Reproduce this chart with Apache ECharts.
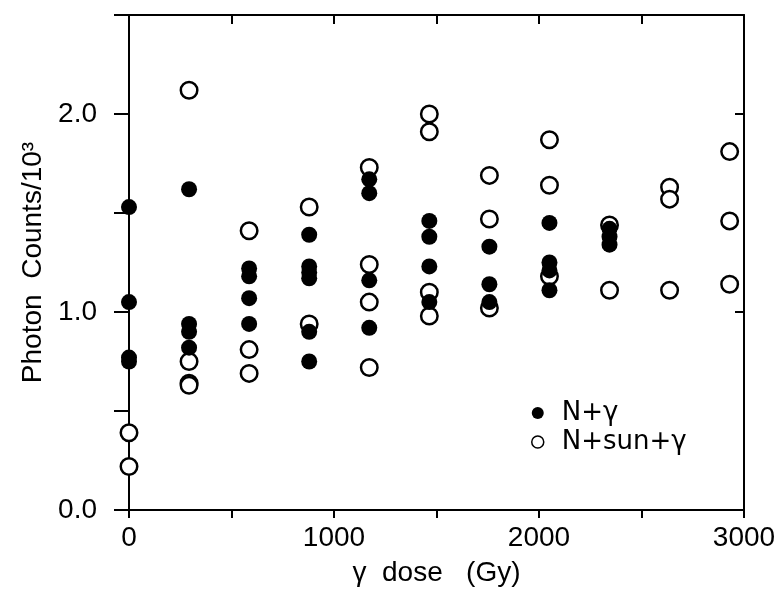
<!DOCTYPE html>
<html>
<head>
<meta charset="utf-8">
<script src="https://cdn.jsdelivr.net/npm/echarts@6/dist/echarts.min.js"></script>
<style>
  html, body { margin: 0; padding: 0; background: #fff; }
  #chart { width: 783px; height: 594px; }
</style>
</head>
<body>
<div id="chart"></div>
<script>
// N+gamma (filled)
var filledDose = [0, 0, 0, 0,
  293, 293, 293, 293,
  586, 586, 586, 586,
  879, 879, 879, 879, 879, 879,
  1172, 1172, 1172, 1172,
  1465, 1465, 1465, 1465,
  1758, 1758, 1758,
  2051, 2051, 2051, 2051,
  2344, 2344, 2344]
var filledCounts = [1.53, 1.05, 0.77, 0.75,
  1.62, 0.94, 0.90, 0.82,
  1.22, 1.18, 1.07, 0.94,
  1.39, 1.23, 1.20, 1.17, 0.90, 0.75,
  1.67, 1.60, 1.16, 0.92,
  1.46, 1.38, 1.23, 1.05,
  1.33, 1.14, 1.05,
  1.45, 1.25, 1.21, 1.11,
  1.42, 1.38, 1.34]

// N+sun+gamma (open)
var openDose = [0, 0,
  293, 293, 293, 293,
  586, 586, 586,
  879, 879,
  1172, 1172, 1172, 1172,
  1465, 1465, 1465, 1465,
  1758, 1758, 1758,
  2051, 2051, 2051,
  2344, 2344,
  2637, 2637, 2637,
  2930, 2930, 2930]
var openCounts = [0.39, 0.22,
  2.12, 0.75, 0.64, 0.63,
  1.41, 0.81, 0.69,
  1.53, 0.94,
  1.73, 1.24, 1.05, 0.72,
  2.00, 1.91, 1.10, 0.98,
  1.69, 1.47, 1.02,
  1.87, 1.64, 1.18,
  1.44, 1.11,
  1.63, 1.57, 1.11,
  1.81, 1.46, 1.14]

var xLabels = [0, 1000, 2000, 3000]
var yLabels = [0, 1, 2]

function pairs(xs, ys) {
  return xs.map(function (x, i) { return [x, ys[i]] })
}

var font = 'Liberation Sans'
var black = '#000'

var chart = echarts.init(document.getElementById('chart'))

var option = {
  animation: false,
  backgroundColor: '#fff',
  grid: { left: 129, right: 39, top: 15, bottom: 84 },
  legend: {
    orient: 'vertical',
    left: 531,
    top: 400,
    padding: 0,
    itemWidth: 12,
    itemHeight: 12,
    itemGap: 3,
    textStyle: { fontFamily: 'DejaVu Sans', fontSize: 26, color: black, lineHeight: 20, padding: [0, 0, 0, 13] },
    data: [
      { name: 'N+γ', icon: 'circle' },
      { name: 'N+sun+γ', icon: 'circle', itemStyle: { borderWidth: 1.5 } }
    ]
  },
  xAxis: [{
    type: 'value',
    position: 'bottom',
    min: 0,
    max: 3000,
    interval: 500,
    name: 'γ  dose   (Gy)',
    nameLocation: 'middle',
    nameGap: 49,
    nameTextStyle: { fontFamily: font, fontSize: 28, color: black },
    axisLine: { show: true, onZero: false, lineStyle: { color: black, width: 2 } },
    axisTick: { show: true, inside: false, length: 8, lineStyle: { color: black, width: 2 } },
    axisLabel: {
      margin: 14,
      fontFamily: font,
      fontSize: 28,
      color: black,
      formatter: function (v) { return xLabels.indexOf(v) >= 0 ? String(v) : '' }
    },
    splitLine: { show: false }
  }, {
    type: 'value',
    position: 'top',
    min: 0,
    max: 3000,
    interval: 500,
    axisLine: { show: true, onZero: false, lineStyle: { color: black, width: 2 } },
    axisTick: { show: true, inside: true, length: 9, lineStyle: { color: black, width: 2 } },
    axisLabel: { show: false },
    splitLine: { show: false }
  }],
  yAxis: [{
    type: 'value',
    position: 'left',
    min: 0,
    max: 2.5,
    interval: 0.5,
    name: 'Photon  Counts/10³',
    nameLocation: 'middle',
    nameGap: 82,
    nameTextStyle: { fontFamily: font, fontSize: 28, color: black },
    axisLine: { show: true, onZero: false, lineStyle: { color: black, width: 2 } },
    axisTick: { show: true, inside: false, length: 15, lineStyle: { color: black, width: 2 } },
    axisLabel: {
      margin: 32,
      fontFamily: font,
      fontSize: 28,
      color: black,
      formatter: function (v) { return yLabels.indexOf(Math.round(v * 10) / 10) >= 0 ? v.toFixed(1) : '' }
    },
    splitLine: { show: false }
  }, {
    type: 'value',
    position: 'right',
    min: 0,
    max: 2.5,
    interval: 1,
    axisLine: { show: true, onZero: false, lineStyle: { color: black, width: 2 } },
    axisTick: { show: true, inside: true, length: 9, lineStyle: { color: black, width: 2 } },
    axisLabel: { show: false },
    splitLine: { show: false }
  }],
  series: [{
    name: 'N+sun+γ',
    type: 'scatter',
    clip: false,
    symbol: 'circle',
    symbolSize: 16.5,
    itemStyle: { color: '#fff', borderColor: black, borderWidth: 2.5, opacity: 1 },
    data: pairs(openDose, openCounts)
  }, {
    name: 'N+γ',
    type: 'scatter',
    clip: false,
    symbol: 'circle',
    symbolSize: 16,
    itemStyle: { color: black, opacity: 1 },
    data: pairs(filledDose, filledCounts)
  }]
}

chart.setOption(option)
</script>
</body>
</html>
